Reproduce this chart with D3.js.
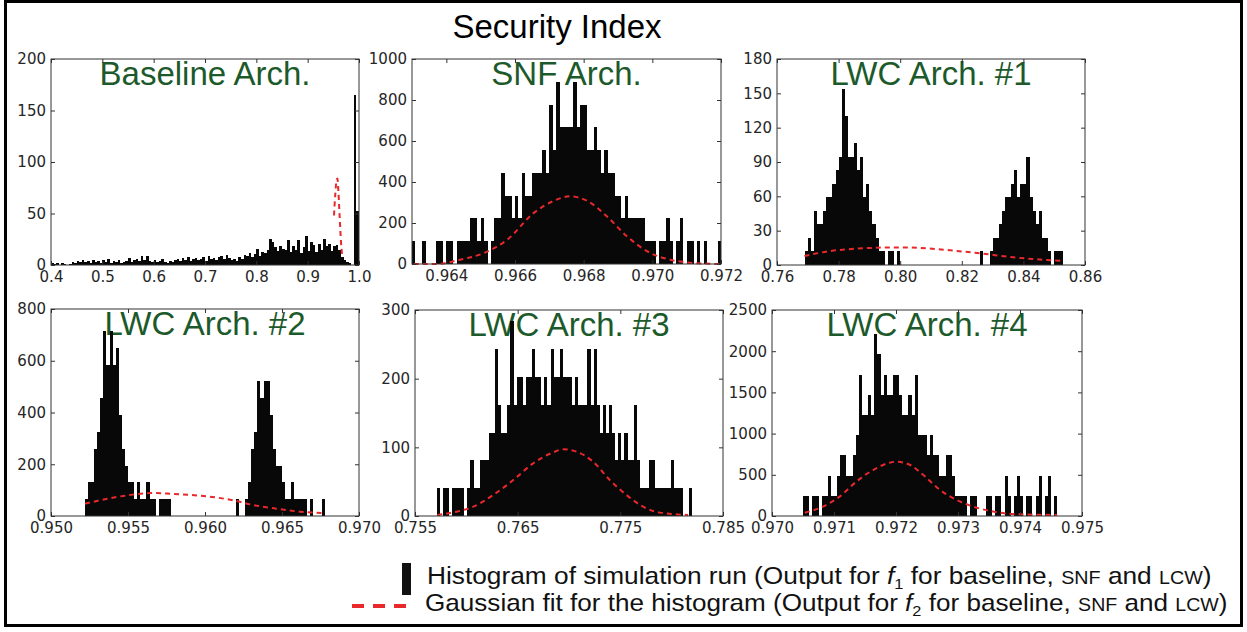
<!DOCTYPE html>
<html>
<head>
<meta charset="utf-8">
<script src="https://cdn.jsdelivr.net/npm/d3@7"></script>
<style>
  body { margin: 0; background: #fff; }
  .tick text { font-family: "DejaVu Sans", sans-serif; font-size: 15px; fill: #262626; }
  .tick line { stroke: #333; }
</style>
</head>
<body>
<svg id="chart" width="1247" height="632"></svg>
<script>
// histogram bins: counts are multiples of each panel's unit height
const baselineCounts = [2,1,2,0,2,1,0,1, 3,2,4,3,5,3,4,2, 5,3,4,2,5,3,6,2, 4,3,5,2,3,4,7,3,
  5,6,4,9,5,9,4,3, 5,3,4,6,3,2,4,3, 5,6,4,7,5,8,4,6, 7,5,6,8,4,9,6,7, 5,8,9,6,10,7,5,6,
  4,8,6,10,9,12,8,11, 16,9,13,12,15,25,22,17, 14,18,16,15,24,13,18,15, 24,12,17,28,14,22,19,13,
  20,15,25,18,20,14,18,19, 15,8,5,3,2,0,165,52];
const snfCounts = [1,0,0,1,0,0,0,1,1,0, 1,1,0,1,1,1,1,2,2,1, 2,1,0,1,2,2,4,3,3,2,
  3,2,4,3,3,4,4,4,5,4, 7,5,8,6,6,6,6,8,6,7, 7,5,5,6,5,4,5,4,4,3,
  3,2,3,2,2,2,2,2,1,1, 1,0,1,1,2,1,0,1,2,0, 1,1,0,1,0,1,0,0,0,1];
const lwc1Counts = [0,0,0,0,0,0,0,0,0,1, 2,1,4,3,3,4,5,5,6,7, 8,13,11,8,8,9,7,8,5,6,
  4,3,2,1,1,0,1,1,0,1, 0,0,0,0,0,0,0,0,0,0, 0,0,0,0,0,0,0,0,0,0,
  0,0,0,0,0,0,1,0,0,1, 2,2,3,4,5,5,6,7,5,6, 6,8,5,4,3,4,2,2,1,0, 1,1,1,0,0,0,0,0,0,0];
const lwc2Counts = [0,0,0,0,0,0,0,0,0,0, 0,1,2,2,4,5,7,11,9,11, 9,10,6,4,3,2,2,1,2,1,
  1,2,1,1,0,1,1,1,1,0, 0,0,0,0,0,0,0,0,0,0, 0,0,0,0,0,0,0,0,0,0,
  1,0,0,1,2,4,5,8,7,8, 8,6,4,3,3,2,1,1,2,1, 1,1,1,0,1,0,0,0,1,0, 0,0,0,0,0,0,0,0,0,0];
const lwc3Counts = [0,0,0,0,0,0,0,1,0,1, 1,0,1,1,1,1,0,1,2,1, 1,2,2,2,3,3,6,4,3,3,
  4,7,4,5,5,4,5,5,6,5, 5,4,5,4,6,5,5,6,5,5, 5,4,5,4,4,4,6,4,6,4,
  3,4,3,4,3,2,3,2,3,2, 2,4,2,1,1,1,2,2,1,1, 1,1,1,2,1,1,1,0,0,1, 0,0,0,0,0,0,0,0,0,0];
const lwc4Counts = [0,0,0,0,0,0,0,0,0,0, 1,1,0,1,1,0,1,1,2,1, 1,2,3,3,2,2,3,4,7,5,
  5,6,5,9,8,6,7,6,6,7, 7,6,5,5,6,5,7,4,4,4, 3,4,3,3,2,2,3,3,2,1,
  1,1,1,0,1,1,0,0,0,1, 1,0,1,1,0,2,1,0,1,2, 1,0,1,1,0,1,2,0,1,2, 0,1,0,0,0,0,0,0,0,0];

// gaussian fit curves: [x, height]
const baselineFit = [[0.9513,48],[0.954,70],[0.9565,83],[0.958,84],[0.960,70],[0.9625,45],[0.965,22],[0.967,10]];
const snfFit = [[0.96305,0],[0.9637,0],[0.9644,21],[0.9651,54],[0.96577,118],[0.96654,248],[0.96713,308],
  [0.96761,330],[0.9681,308],[0.96868,232],[0.96926,135],[0.96994,54],[0.97052,21],[0.9712,5],[0.97198,0]];
const lwc1Fit = [[0.7689,7.9],[0.7773,12.2],[0.7881,14.6],[0.7989,15.4],[0.8054,15.1],[0.8151,13.1],
  [0.8259,10.2],[0.8368,6.7],[0.8476,4.4],[0.853,3.5]];
const lwc2Fit = [[0.95221,47.7],[0.95318,60.6],[0.95426,73.5],[0.95534,82.6],[0.95664,89],[0.95794,85],
  [0.95966,78.7],[0.96183,60.6],[0.96312,42.6],[0.96464,28.4],[0.96615,16.8],[0.96756,11.6]];
const lwc3Fit = [[0.75717,1.5],[0.75905,6.3],[0.76068,13.6],[0.76262,30.6],[0.76457,52.4],[0.76651,76.7],
  [0.76846,92.7],[0.76943,97.1],[0.77073,93.7],[0.77235,79.1],[0.77397,52.4],[0.7756,30.6],[0.77722,13.6],
  [0.77884,4.9],[0.7816,1.5]];
const lwc4Fit = [[0.97053,40],[0.97082,113],[0.97109,235],[0.97136,417],[0.97163,558],[0.9719,647],
  [0.97201,659],[0.97223,619],[0.97244,498],[0.97271,316],[0.97298,194],[0.97325,113],[0.97352,61],
  [0.9739,24],[0.9746,12]];

const titles = ["Baseline Arch.", "SNF Arch.", "LWC Arch. #1", "LWC Arch. #2", "LWC Arch. #3", "LWC Arch. #4"];
const xTicks = [
  [0.4,0.5,0.6,0.7,0.8,0.9,1.0],
  [0.964,0.966,0.968,0.970,0.972],
  [0.76,0.78,0.80,0.82,0.84,0.86],
  [0.950,0.955,0.960,0.965,0.970],
  [0.755,0.765,0.775,0.785],
  [0.970,0.971,0.972,0.973,0.974,0.975]
];
const yTicks = [
  [0,50,100,150,200],
  [0,200,400,600,800,1000],
  [0,30,60,90,120,150,180],
  [0,200,400,600,800],
  [0,100,200,300],
  [0,500,1000,1500,2000,2500]
];
const xFormats = [".1f", ".3f", ".2f", ".3f", ".3f", ".3f"];
const xDomains = [[0.4,1.0],[0.963,0.972],[0.76,0.86],[0.95,0.97],[0.755,0.785],[0.970,0.975]];
const binStarts = [0.4, 0.963, 0.76, 0.95, 0.755, 0.970];
const binWidths = [0.005, 0.0001, 0.001, 0.0002, 0.0003, 0.00005];
const units = [1, 1000/9, 11.8, 65, 40.5, 245];

const legendLabels = [
  ["Histogram of simulation run (Output for ", "f", "1", " for baseline, ", "SNF", " and ", "LCW", ")"],
  ["Gaussian fit for the histogram (Output for ", "f", "2", " for baseline, ", "SNF", " and ", "LCW", ")"]
];

// layout: plot boxes [left, top, right, bottom]
const boxes = [
  [51,59,359,265], [412,59,721,264], [777,59,1085,265],
  [51,309,359,516], [415,310,723,516], [772,310,1082,516]
];

const countsList = [baselineCounts, snfCounts, lwc1Counts, lwc2Counts, lwc3Counts, lwc4Counts];
const fitList = [baselineFit, snfFit, lwc1Fit, lwc2Fit, lwc3Fit, lwc4Fit];

const svg = d3.select("#chart");

svg.append("rect")
  .attr("x", 5.5).attr("y", 1.5).attr("width", 1236).attr("height", 624)
  .attr("fill", "none").attr("stroke", "#000").attr("stroke-width", 3);

svg.append("text")
  .attr("x", 557).attr("y", 38)
  .attr("text-anchor", "middle")
  .style("font-family", "'Liberation Sans', Arial, sans-serif")
  .style("font-size", "33px")
  .attr("fill", "#000")
  .text("Security Index");

countsList.forEach((counts, k) => {
  const b = boxes[k];
  const x = d3.scaleLinear().domain(xDomains[k]).range([b[0], b[2]]);
  const y = d3.scaleLinear().domain([0, yTicks[k][yTicks[k].length - 1]]).range([b[3], b[1]]);
  const g = svg.append("g");

  g.append("text")
    .attr("x", (b[0] + b[2]) / 2).attr("y", b[1] + 26)
    .attr("text-anchor", "middle")
    .style("font-family", "'Liberation Sans', Arial, sans-serif")
    .style("font-size", "33px")
    .attr("fill", "#1d5a2b")
    .text(titles[k]);

  const bins = counts.map((c, i) => ({
    x0: binStarts[k] + i * binWidths[k],
    x1: binStarts[k] + (i + 1) * binWidths[k],
    v: c * units[k]
  })).filter(d => d.v > 0);

  g.selectAll("rect.bar")
    .data(bins)
    .join("rect")
      .attr("class", "bar")
      .attr("x", d => x(d.x0))
      .attr("width", d => Math.max(1, x(d.x1) - x(d.x0)))
      .attr("y", d => y(d.v))
      .attr("height", d => y(0) - y(d.v))
      .attr("fill", "#080808")
      .attr("shape-rendering", "crispEdges");

  const line = d3.line()
    .x(d => x(d[0]))
    .y(d => y(d[1]))
    .curve(d3.curveMonotoneX);

  g.append("path")
    .datum(fitList[k])
    .attr("d", line)
    .attr("fill", "none")
    .attr("stroke", "#e8282b")
    .attr("stroke-width", 2)
    .attr("stroke-dasharray", "5,4");

  // matplotlib-classic style: ticks inside on all four sides
  const bottom = g.append("g").attr("transform", "translate(0," + b[3] + ")")
    .call(d3.axisBottom(x).tickValues(xTicks[k]).tickSize(-4).tickPadding(6).tickFormat(d3.format(xFormats[k])));
  const left = g.append("g").attr("transform", "translate(" + b[0] + ",0)")
    .call(d3.axisLeft(y).tickValues(yTicks[k]).tickSize(-4).tickPadding(5).tickFormat(d3.format("d")));
  const top = g.append("g").attr("transform", "translate(0," + b[1] + ")")
    .call(d3.axisTop(x).tickValues(xTicks[k]).tickSize(-4).tickFormat(""));
  const right = g.append("g").attr("transform", "translate(" + b[2] + ",0)")
    .call(d3.axisRight(y).tickValues(yTicks[k]).tickSize(-4).tickFormat(""));
  [bottom, left, top, right].forEach(a => a.select(".domain").remove());

  g.append("rect")
    .attr("x", b[0]).attr("y", b[1])
    .attr("width", b[2] - b[0]).attr("height", b[3] - b[1])
    .attr("fill", "none").attr("stroke", "#333").attr("stroke-width", 1);
});

// legend
svg.append("rect")
  .attr("x", 402).attr("y", 563).attr("width", 9).attr("height", 32)
  .attr("fill", "#111");
svg.append("line")
  .attr("x1", 352).attr("x2", 410).attr("y1", 606).attr("y2", 606)
  .attr("stroke", "#e8282b").attr("stroke-width", 4).attr("stroke-dasharray", "12,9");

const legendPos = [[427, 584, 785], [425, 611, 803]];
legendLabels.forEach((parts, j) => {
  const t = svg.append("text")
    .attr("x", 0).attr("y", 0)
    .style("font-family", "'Liberation Sans', Arial, sans-serif")
    .style("font-size", "24px")
    .attr("fill", "#111");
  t.append("tspan").text(parts[0]);
  t.append("tspan").style("font-style", "italic").text(parts[1]);
  t.append("tspan").style("font-size", "15px").attr("dy", 5).text(parts[2]);
  t.append("tspan").attr("dy", -5).text(parts[3]);
  t.append("tspan").style("font-size", "18px").text(parts[4]);
  t.append("tspan").text(parts[5]);
  t.append("tspan").style("font-size", "18px").text(parts[6]);
  t.append("tspan").text(parts[7]);
  const w = t.node().getComputedTextLength();
  t.attr("transform", "translate(" + legendPos[j][0] + "," + legendPos[j][1] + ") scale(" + (legendPos[j][2] / w) + ",1)");
});
</script>
</body>
</html>
